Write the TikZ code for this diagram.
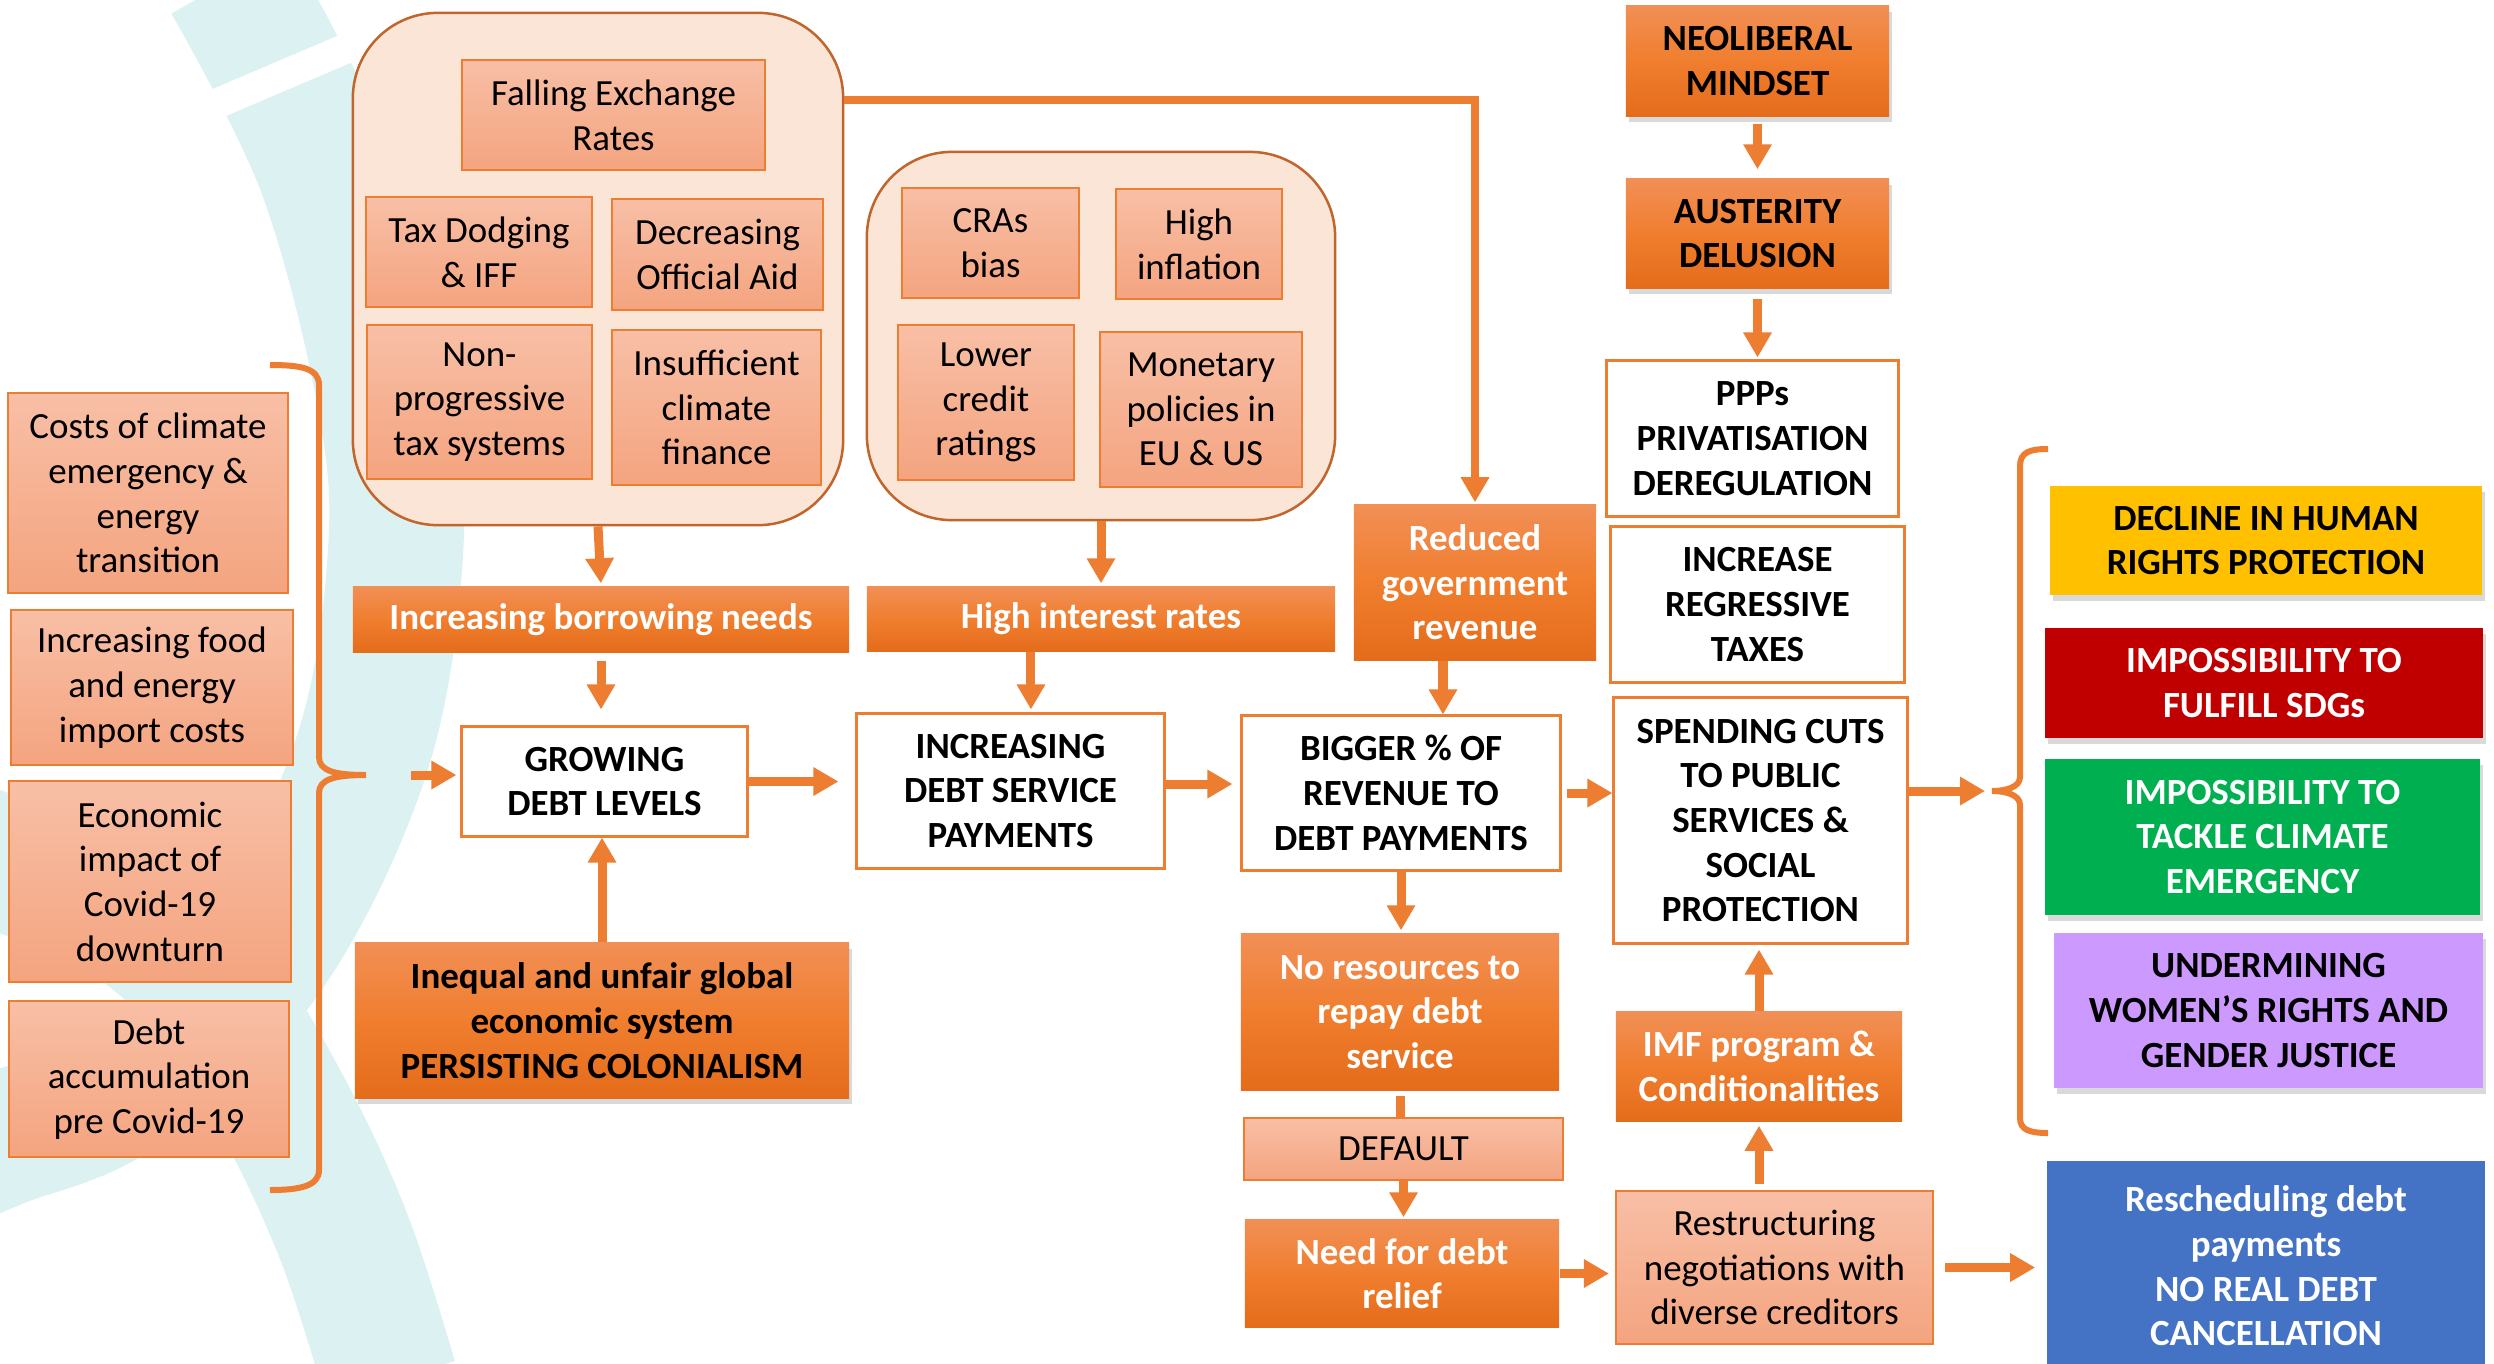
\documentclass[tikz,border=0pt]{standalone}
\usepackage{fontspec}
\setmainfont{Carlito}
\usetikzlibrary{arrows.meta}
\usetikzlibrary{shadows}

\definecolor{arrowc}{HTML}{ED7D31}
\definecolor{groupfill}{HTML}{FBE5D6}
\definecolor{groupline}{HTML}{C0652B}
\definecolor{salmontop}{HTML}{F8BFA6}
\definecolor{salmonbot}{HTML}{F4A47F}
\definecolor{orangetop}{HTML}{F18F56}
\definecolor{orangemid}{HTML}{F07E2E}
\definecolor{orangebot}{HTML}{E46C1B}
\definecolor{bandc}{HTML}{DCF1F2}
\definecolor{rightsyellow}{HTML}{FFC000}
\definecolor{sdgred}{HTML}{C00000}
\definecolor{climgreen}{HTML}{00B050}
\definecolor{genderpurple}{HTML}{CC99FF}
\definecolor{reschedblue}{HTML}{4472C4}

\newcommand\chartfont{\fontsize{10.5}{12.7}\selectfont}

\begin{document}
\begin{tikzpicture}[x=0.01cm, y=-0.01cm,
  every node/.style={align=center, inner sep=2pt, font=\chartfont},
  boxsize/.style 2 args={minimum width=#1, minimum height=#2},
  groupbox/.style={draw=groupline, line width=0.025cm, fill=groupfill, rounded corners=0.85cm},
  lightbox/.style={draw=arrowc, line width=0.02cm, top color=salmontop, bottom color=salmonbot},
  darkbox/.style={top color=orangetop, bottom color=orangebot, middle color=orangemid, font=\chartfont\bfseries, text=white},
  outlinebox/.style={draw=arrowc, line width=0.03cm, fill=white, font=\chartfont\bfseries},
  shadowed/.style={drop shadow={shadow xshift=0.03cm, shadow yshift=-0.06cm, opacity=0.3}},
  outcome/.style={font=\chartfont\bfseries, shadowed},
  flow/.style={draw=arrowc, line width=0.09cm, -{Triangle[length=0.25cm, width=0.27cm]}},
  link/.style={draw=arrowc, line width=0.09cm},
  bracestroke/.style={draw=arrowc, line width=0.06cm},
  band/.style={draw=bandc, line width=1.35cm}]

\useasboundingbox (0,0) rectangle (2494,1363);

% background bands
\draw[band] plot[smooth, tension=0.6] coordinates {(230,-20) (325,170) (385,400) (395,560) (360,760) (260,960) (120,1090) (0,1140) (-60,1165)};
\draw[band] plot[smooth, tension=0.6] coordinates {(-60,840) (0,862) (110,905) (210,990) (285,1110) (345,1240) (390,1380)};
\draw[white, line width=0.3cm] (150,132) -- (420,17);

% causes in groups
\node[groupbox, boxsize={4.90cm}{5.12cm}] (causesA) at (598,269) {};
\node[groupbox, boxsize={4.68cm}{3.68cm}] (causesB) at (1101,336) {};

\node[lightbox, boxsize={3.03cm}{1.10cm}] (fer) at (613.5,115) {Falling Exchange\\Rates};
\node[lightbox, boxsize={2.26cm}{1.10cm}] (taxdodge) at (479,252) {Tax Dodging\\\& IFF};
\node[lightbox, boxsize={2.11cm}{1.11cm}] (offaid) at (717.5,254.5) {Decreasing\\Official Aid};
\node[lightbox, boxsize={2.25cm}{1.54cm}] (nonprog) at (479.5,402) {Non-\\progressive\\tax systems};
\node[lightbox, boxsize={2.09cm}{1.55cm}] (climfin) at (716.5,407.5) {Insufficient\\climate\\finance};

\node[lightbox, boxsize={1.77cm}{1.10cm}] (cras) at (990.5,243) {CRAs\\bias};
\node[lightbox, boxsize={1.66cm}{1.10cm}] (inflation) at (1199,244) {High\\inflation};
\node[lightbox, boxsize={1.76cm}{1.55cm}] (credit) at (986,402.5) {Lower\\credit\\ratings};
\node[lightbox, boxsize={2.02cm}{1.55cm}] (monetary) at (1201,409.5) {Monetary\\policies in\\EU \& US};

\node[darkbox, boxsize={4.96cm}{0.65cm}] (borrow) at (601,619.5) {Increasing borrowing needs};
\node[darkbox, boxsize={4.68cm}{0.64cm}] (interest) at (1101,619) {High interest rates};
\node[darkbox, boxsize={2.42cm}{1.55cm}] (reduced) at (1475,582.5) {Reduced\\government\\revenue};

% external shocks
\node[lightbox, boxsize={2.80cm}{2.00cm}] (climcost) at (148,493) {Costs of climate\\emergency \&\\energy\\transition};
\node[lightbox, boxsize={2.82cm}{1.55cm}] (food) at (152,687.5) {Increasing food\\and energy\\import costs};
\node[lightbox, boxsize={2.82cm}{2.01cm}] (covid) at (150,881.5) {Economic\\impact of\\Covid-19\\downturn};
\node[lightbox, boxsize={2.80cm}{1.56cm}] (preexisting) at (149,1079) {Debt\\accumulation\\pre Covid-19};

\node[darkbox, shadowed, text=black, boxsize={4.94cm}{1.55cm}] (colonial) at (602,1020.5) {Inequal and unfair global\\economic system\\PERSISTING COLONIALISM};

% debt chain
\node[outlinebox, boxsize={2.85cm}{1.09cm}] (growing) at (604.5,781.5) {GROWING\\DEBT LEVELS};
\node[outlinebox, boxsize={3.07cm}{1.54cm}] (service) at (1010.5,791) {INCREASING\\DEBT SERVICE\\PAYMENTS};
\node[outlinebox, boxsize={3.18cm}{1.54cm}] (bigger) at (1401,793) {BIGGER \% OF\\REVENUE TO\\DEBT PAYMENTS};
\node[darkbox, boxsize={3.18cm}{1.56cm}] (nores) at (1400,1012) {No resources to\\repay debt\\service};
\node[lightbox, boxsize={3.19cm}{0.62cm}] (default) at (1403.5,1149) {DEFAULT};
\node[darkbox, boxsize={3.14cm}{1.07cm}] (relief) at (1402,1273.5) {Need for debt\\relief};
\node[lightbox, boxsize={3.17cm}{1.53cm}] (restruct) at (1774.5,1267.5) {Restructuring\\negotiations with\\diverse creditors};
\node[darkbox, boxsize={2.86cm}{1.09cm}] (imf) at (1759,1066.5) {IMF program \&\\Conditionalities};
\node[fill=reschedblue, text=white, font=\chartfont\bfseries, boxsize={4.38cm}{2.10cm}] (resched) at (2266,1266) {Rescheduling debt\\payments\\NO REAL DEBT\\CANCELLATION};

% austerity column
\node[darkbox, shadowed, text=black, boxsize={2.63cm}{1.10cm}] (neoliberal) at (1757.5,61) {NEOLIBERAL\\MINDSET};
\node[darkbox, shadowed, text=black, boxsize={2.63cm}{1.09cm}] (austerity) at (1757.5,233.5) {AUSTERITY\\DELUSION};
\node[outlinebox, boxsize={2.91cm}{1.55cm}] (ppps) at (1752.5,438.5) {PPPs\\PRIVATISATION\\DEREGULATION};
\node[outlinebox, boxsize={2.93cm}{1.55cm}] (regressive) at (1757.5,604.5) {INCREASE\\REGRESSIVE\\TAXES};
\node[outlinebox, boxsize={2.93cm}{2.45cm}] (spending) at (1760.5,820.5) {SPENDING CUTS\\TO PUBLIC\\SERVICES \&\\SOCIAL\\PROTECTION};

% consequences
\node[outcome, fill=rightsyellow, boxsize={4.32cm}{1.09cm}] (humanrights) at (2266,540.5) {DECLINE IN HUMAN\\RIGHTS PROTECTION};
\node[outcome, fill=sdgred, text=white, boxsize={4.38cm}{1.10cm}] (sdgs) at (2264,683) {IMPOSSIBILITY TO\\FULFILL SDGs};
\node[outcome, fill=climgreen, text=white, boxsize={4.35cm}{1.56cm}] (climate) at (2262.5,837) {IMPOSSIBILITY TO\\TACKLE CLIMATE\\EMERGENCY};
\node[outcome, fill=genderpurple, boxsize={4.29cm}{1.55cm}] (women) at (2268.5,1010.5) {UNDERMINING\\WOMEN’S RIGHTS AND\\GENDER JUSTICE};

% braces
\coordinate (lbrace) at (366,775);
\coordinate (rbrace) at (1992,791);
\draw[bracestroke] (270,365) .. controls (300,365) and (319,368) .. (319,385) -- (319,757)
  .. controls (319,771) and (335,775) .. (lbrace) .. controls (335,775) and (319,779) .. (319,793)
  -- (319,1170) .. controls (319,1186) and (300,1190) .. (270,1190);
\draw[bracestroke] (2048,449) .. controls (2030,449) and (2020,452) .. (2020,466) -- (2020,777)
  .. controls (2020,787) and (2006,791) .. (rbrace) .. controls (2006,791) and (2020,795) .. (2020,805)
  -- (2020,1118) .. controls (2020,1130) and (2030,1133) .. (2048,1133);

% connectors
\draw[flow, shorten <=0.45cm, shorten >=0.04cm] (lbrace) -- (lbrace -| growing.west);
\draw[flow, shorten >=0.03cm] (causesA.south) -- (borrow.north);
\draw[flow, shorten <=0.08cm, shorten >=0.16cm] (borrow.south) -- (borrow.south |- growing.north);
\draw[flow] (colonial.north) -- (colonial.north |- growing.south);
\draw[flow, shorten >=0.17cm] (growing.east) -- (growing.east -| service.west);
\draw[flow, shorten >=0.03cm] (causesB.south) -- (interest.north);
\draw[flow, shorten >=0.03cm] ([xshift=-0.7cm]interest.south) -- ([xshift=-0.7cm]interest.south |- service.north);
\draw[flow, shorten >=0.08cm] ([yshift=0.07cm]service.east) -- ([yshift=0.07cm]service.east -| bigger.west);
\draw[flow, line width=0.08cm, shorten >=0.02cm] ([yshift=1.69cm]causesA.east) -| (reduced.north);
\draw[flow] ([xshift=-0.32cm]reduced.south) -- ([xshift=-0.32cm]reduced.south |- bigger.north);
\draw[flow, shorten >=0.03cm] (bigger.south) -- (bigger.south |- nores.north);
\draw[flow, shorten <=0.05cm] (bigger.east) -- (bigger.east -| spending.west);
\draw[link, shorten <=0.05cm] (nores.south) -- (nores.south |- default.north);
\draw[flow, shorten >=0.02cm] (default.south) -- (default.south |- relief.north);
\draw[flow, shorten >=0.06cm] (relief.east) -- (relief.east -| restruct.west);
\draw[flow, shorten <=0.06cm, shorten >=0.04cm] (imf.south |- restruct.north) -- (imf.south);
\draw[flow, shorten >=0.05cm] (imf.north) -- (imf.north |- spending.south);
\draw[flow, shorten <=0.11cm, shorten >=0.11cm] (restruct.east) -- (restruct.east -| resched.west);
\draw[flow, shorten >=0.07cm] (spending.east |- rbrace) -- (rbrace);
\draw[flow, shorten <=0.07cm, shorten >=0.09cm] (neoliberal.south) -- (austerity.north);
\draw[flow, shorten <=0.1cm, shorten >=0.02cm] (austerity.south) -- (austerity.south |- ppps.north);
\end{tikzpicture}
\end{document}
